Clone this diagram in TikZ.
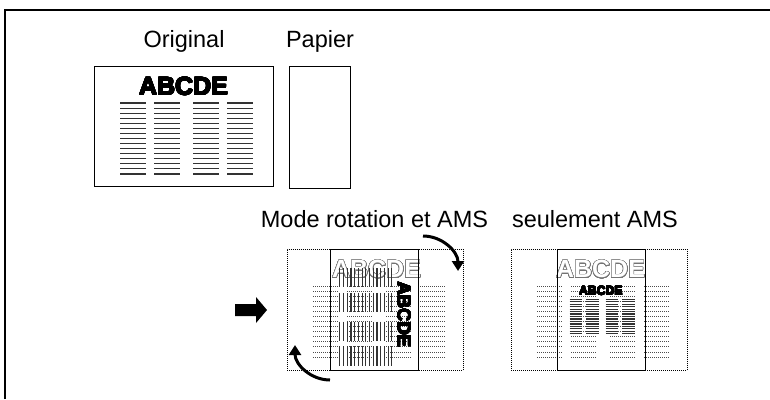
\documentclass[tikz,border=0pt]{standalone}
\usepackage{fontspec}
\setmainfont{Liberation Sans}
\usepackage{contour}
\usetikzlibrary{arrows.meta}

% contents of the original sheet, in its own frame (179 x 120, y down)
\newcommand{\sheetbody}[2]{%
  \node[headtxt] (hd) at (89.5,20.5) {#2};
  \foreach \c in {26,60,99,133}
    \foreach \r in {0,...,14}
      \draw[#1] (\c,37+\r*5.07) -- ++(26,0);
}
\newcommand{\heavy}[1]{{\contourlength{0.55pt}\contour[24]{black}{#1}}}
\newcommand{\hollow}[1]{{\contourlength{0.5pt}\contour[32]{black!55}{\textcolor{white}{#1}}}}

\begin{document}
\begin{tikzpicture}[x=1pt,y=-1pt,
  caption/.style={font=\fontsize{23.5}{26}\selectfont, anchor=base, inner sep=0pt},
  headtxt/.style={font=\fontsize{25}{26}\selectfont\bfseries, inner sep=0pt},
  sheet/.style={draw, line width=1pt, inner sep=0pt, anchor=north west},
  ghost/.style={draw, line width=0.8pt, dash pattern=on 1pt off 1pt, inner sep=0pt, anchor=north west},
  rowline/.style={line width=1.1pt, black!80},
  ghostline/.style={line width=0.8pt, dash pattern=on 1pt off 1pt, black!70},
  turn/.style={line width=3pt, -{Triangle[length=10pt,width=12pt]}}]
\useasboundingbox (0,0) rectangle (770,399);
\draw[line width=1.5pt] (5,399) -- (5,10) -- (770,10);

% top row
\node[sheet, minimum width=179pt, minimum height=120pt] (orig) at (94,66) {};
\node[sheet, minimum width=61pt, minimum height=122pt] (paper) at (289,66) {};
\node[caption] (origlbl) at ([yshift=19pt]orig.north) {Original};
\node[caption] (paperlbl) at ([yshift=19pt]paper.north) {Papier};
\begin{scope}[shift={(orig.north west)}]
  \sheetbody{rowline}{\heavy{ABCDE}}
\end{scope}

% rotation and AMS
\node[ghost, minimum width=176pt, minimum height=121pt] (rotland) at (287,249) {};
\node[caption] (rotlbl) at (374.5,227) {Mode rotation et AMS};
\begin{scope}[shift={(rotland.north west)}]
  \sheetbody{ghostline}{\hollow{ABCDE}}
\end{scope}
\node[sheet, minimum width=88pt, minimum height=121pt] (rotpaper) at (330,249) {};
\begin{scope}[shift={(rotpaper.north east)}, rotate=-90, scale=0.733, transform shape]
  \sheetbody{rowline}{\heavy{ABCDE}}
\end{scope}
\draw[turn] (423,236) arc[start angle=-90, end angle=0, radius=35];
\draw[turn] (330,380) arc[start angle=90, end angle=180, radius=35];

% only AMS
\node[ghost, minimum width=176pt, minimum height=121pt] (amsland) at (511,249) {};
\node[caption] (amslbl) at (595,227) {seulement AMS};
\begin{scope}[shift={(amsland.north west)}]
  \sheetbody{ghostline}{\hollow{ABCDE}}
\end{scope}
\node[sheet, minimum width=88pt, minimum height=121pt] (amspaper) at (557,249) {};
\begin{scope}[shift={([yshift=-32pt]amspaper.north west)}, scale=0.49, transform shape]
  \sheetbody{rowline}{\heavy{ABCDE}}
\end{scope}

% block arrow
\fill (235,304) -- (256,304) -- (256,297) -- (267,310) -- (256,323) -- (256,316) -- (235,316) -- cycle;
\end{tikzpicture}
\end{document}
